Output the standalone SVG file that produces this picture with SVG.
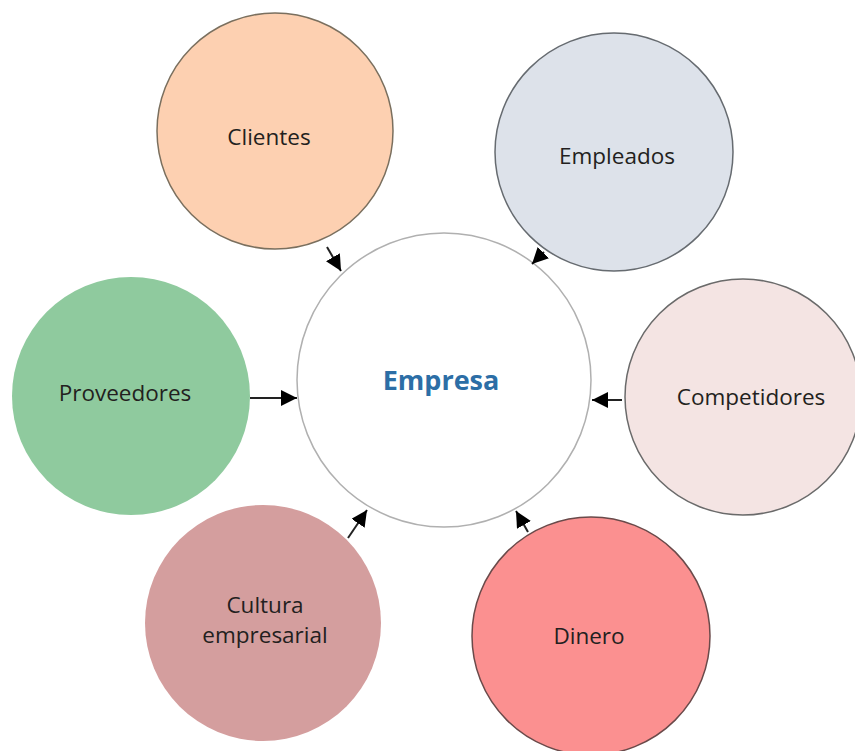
<svg xmlns="http://www.w3.org/2000/svg" width="855" height="751" viewBox="0 0 855 751">
<style>
.lbl{font-family:"Open Sans","Liberation Sans",sans-serif;font-size:22.5px;fill:#231f20;text-anchor:middle}
.ctr{font-family:"Open Sans","Liberation Sans",sans-serif;font-size:27px;font-weight:bold;fill:#2c6ea6;text-anchor:middle}
.conn{stroke:#222;stroke-width:2;fill:none;marker-end:url(#ah)}
</style>
<defs>
<marker id="ah" viewBox="0 0 10 10" refX="10" refY="5" markerWidth="8" markerHeight="8" markerUnits="strokeWidth" orient="auto">
<path d="M0,0 L10,5 L0,10 z" fill="#000"/>
</marker>
</defs>
<rect width="855" height="751" fill="#fff"/>
<g id="empresa">
<circle cx="444" cy="380" r="147" fill="#fff" stroke="#b0b0b0" stroke-width="1.5"/>
<text class="ctr" x="441" y="390">Empresa</text>
</g>
<g id="clientes">
<circle cx="275" cy="131" r="118" fill="#fdd0b1" stroke="#7a6f5e" stroke-width="1.5"/>
<text class="lbl" x="269" y="145">Clientes</text>
</g>
<g id="empleados">
<circle cx="614" cy="152" r="119" fill="#dde2ea" stroke="#666b70" stroke-width="1.5"/>
<text class="lbl" x="617" y="164">Empleados</text>
</g>
<g id="proveedores">
<circle cx="131" cy="396" r="119" fill="#8fca9e"/>
<text class="lbl" x="125" y="401">Proveedores</text>
</g>
<g id="competidores">
<circle cx="743" cy="397" r="118" fill="#f4e4e3" stroke="#6a6a6a" stroke-width="1.5"/>
<text class="lbl" x="751" y="405">Competidores</text>
</g>
<g id="cultura">
<circle cx="263" cy="623" r="118" fill="#d49e9e"/>
<text class="lbl" x="265" y="613">Cultura</text>
<text class="lbl" x="265" y="643">empresarial</text>
</g>
<g id="dinero">
<circle cx="591" cy="636" r="119" fill="#fb9090" stroke="#6a4a4a" stroke-width="1.5"/>
<text class="lbl" x="589" y="644">Dinero</text>
</g>
<g id="connectors">
<line class="conn" x1="327" y1="247" x2="341" y2="271"/>
<line class="conn" x1="544" y1="252" x2="532" y2="264"/>
<line class="conn" x1="250" y1="398" x2="297" y2="398"/>
<line class="conn" x1="622" y1="400" x2="592" y2="400"/>
<line class="conn" x1="348" y1="538" x2="367" y2="510"/>
<line class="conn" x1="528" y1="532" x2="516" y2="511"/>
</g>
</svg>
